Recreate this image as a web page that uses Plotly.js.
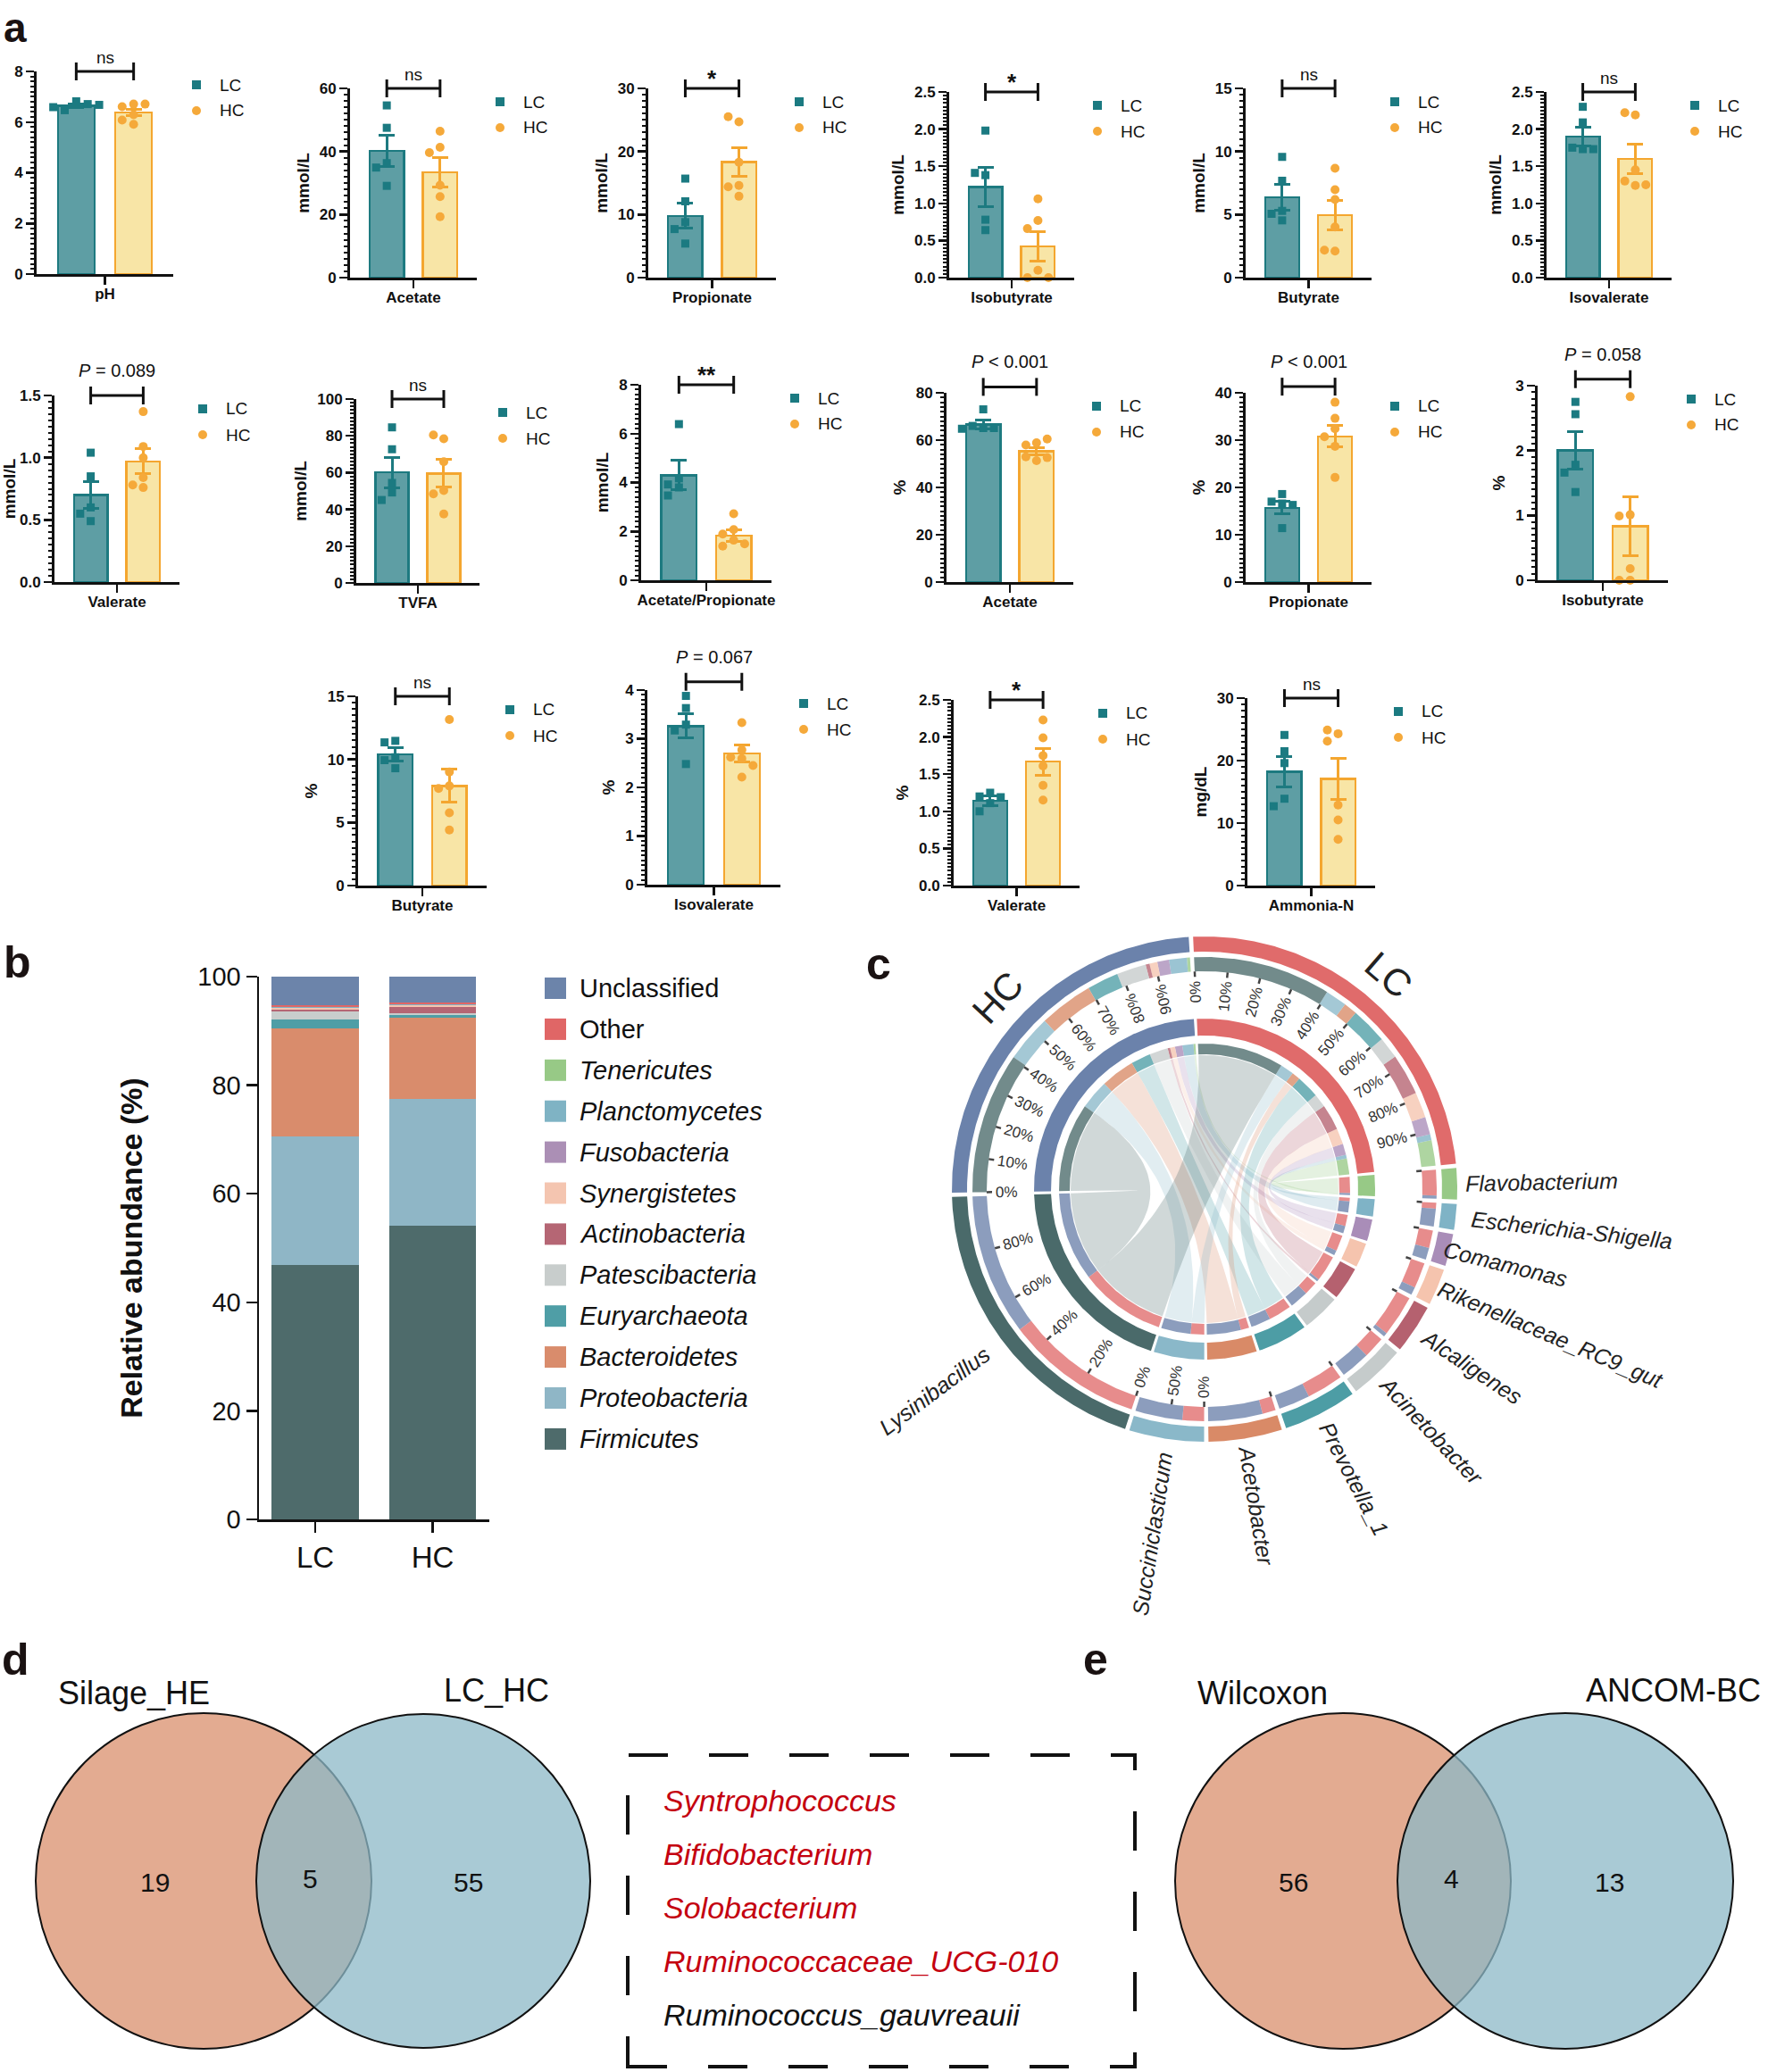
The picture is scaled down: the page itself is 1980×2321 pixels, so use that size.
<!DOCTYPE html>
<html><head><meta charset="utf-8">
<script src="https://cdn.plot.ly/plotly-3.0.1.min.js"></script>
<style>html,body{margin:0;padding:0;background:#fff}#chart{width:1980px;height:2321px}</style>
</head><body><div id="chart"></div>
<script>
const W = 1980, H = 2321;
const NARROW = '"Liberation Sans Narrow", "Arial Narrow", "Liberation Sans", Arial, sans-serif';
const SANS = '"Liberation Sans", Arial, sans-serif';

// ================= Panel a data =================
const groupNames = ['LC', 'HC'];
const panelNames = ['pH','Acetate','Propionate','Isobutyrate','Butyrate','Isovalerate',
  'Valerate','TVFA','Acetate/Propionate','Acetate','Propionate','Isobutyrate',
  'Butyrate','Isovalerate','Valerate','Ammonia-N'];
const yUnits = ['','mmol/L','mmol/L','mmol/L','mmol/L','mmol/L',
  'mmol/L','mmol/L','mmol/L','%','%','%','%','%','%','mg/dL'];
const yMax   = [8,60,30,2.5,15,2.5, 1.5,100,8,80,40,3, 15,4,2.5,30];
const yDtick = [2,20,10,0.5,5,0.5, 0.5,20,2,20,10,1, 5,1,0.5,10];
const lcMean = [6.65,40.2,9.8,1.22,6.36,1.90, 0.70,60.1,4.30,66.7,15.7,2.00, 10.4,3.26,1.14,18.2];
const lcSem  = [0.06,5.0,2.0,0.26,1.0,0.13, 0.11,8.2,0.60,1.8,1.3,0.29, 0.5,0.25,0.07,2.4];
const hcMean = [6.38,33.4,18.3,0.42,4.95,1.60, 0.97,59.5,1.82,55.3,30.8,0.83, 7.9,2.70,1.67,17.1];
const hcSem  = [0.13,4.6,2.3,0.20,1.15,0.20, 0.10,7.5,0.24,1.5,2.3,0.45, 1.3,0.17,0.18,3.3];
const lcPoints = [
  [6.82,6.47,6.71,6.59,6.68],[54.6,47.5,36.3,34.9,29.1],[15.7,12.1,8.8,7.7,5.4],
  [1.98,1.38,1.41,0.78,0.64],[9.57,7.68,5.29,5.06,4.54],[2.30,2.09,1.73,1.75,1.73],
  [1.04,0.85,0.60,0.55,0.49],[84.6,72.7,54.4,49.2,45.1],[6.39,4.17,3.92,3.80,3.47],
  [73.0,65.1,66.0,65.1,64.8],[18.6,17.0,16.6,16.3,11.4],[2.75,2.56,1.78,1.66,1.36],
  [11.47,11.35,10.17,9.94,9.3],[3.88,3.63,3.29,3.17,2.48],[1.25,1.20,1.19,1.11,1.0],
  [24.1,21.5,19.6,13.9,12.7]];
const hcPoints = [
  [6.71,6.61,6.71,5.91,6.08,6.29],[46.4,41.3,39.6,29.3,25.7,19.3],[24.7,25.5,18.3,14.6,14.4,12.9],
  [1.06,0.77,0.66,0.10,0.0,0.0],[8.67,6.97,6.19,4.02,2.1,2.17],[2.19,2.22,1.45,1.24,1.30,1.25],
  [1.37,1.09,1.0,0.84,0.76,0.78],[78.4,80.5,65.9,50.3,48.4,37.5],[2.72,2.07,1.89,1.64,1.40,1.49],
  [58.9,57.9,60.5,51.3,52.9,52.6],[38.0,34.6,32.4,30.7,28.7,22.1],[2.83,1.01,0.99,0.18,0,0],
  [13.16,9.0,7.9,7.7,5.77,4.4],[3.33,2.77,2.62,2.59,2.45,2.21],[2.23,1.99,1.75,1.61,1.35,1.15],
  [24.3,24.9,23.1,12.9,10.5,7.4]];
const sigLabels = ['ns','ns','*','*','ns','ns',
  '<i>P</i> = 0.089','ns','**','<i>P</i> &lt; 0.001','<i>P</i> &lt; 0.001','<i>P</i> = 0.058',
  'ns','<i>P</i> = 0.067','*','ns'];
const sigLevel = [8,60,30,2.5,15,2.5, 1.5,100,8,82.5,41.3,3.1, 15,4.17,2.5,30];

// layout geometry of panel a (pixels): y-axis x, x-axis right end, top tick y, baseline y
const geomA = [
  [41,194,80,307],[392,534,99,311],[726,869,99,311],[1063,1203,103,311],[1395,1536,99,311],[1732,1872,103,311],
  [61,201,443,652],[399,537,447,653],[718,864,431,650],[1060,1202,440,652],[1395,1536,440,652],[1722,1868,432,650],
  [401,545,780,992],[725,874,773,991],[1068,1209,784,992],[1397,1540,782,992]];

// ================= Panel b data =================
const groupsB = ['LC','HC'];
const phyla = ['Firmicutes','Proteobacteria','Bacteroidetes','Euryarchaeota','Patescibacteria',
  'Actinobacteria','Synergistetes','Fusobacteria','Planctomycetes','Tenericutes','Other','Unclassified'];
const phylaLC = [46.8,23.8,19.9,1.6,1.5,0.3,0.3,0.1,0.1,0.05,0.35,5.2];
const phylaHC = [54.1,23.3,15.1,0.4,0.3,1.2,0.3,0.1,0.1,0.05,0.25,4.8];
const phylaColors = ['#4e6b6b','#8fb6c6','#d98c6c','#4f9ea6','#c8cdcc','#b56674',
  '#f4c5b0','#ab8fb5','#7fb3c4','#97c986','#e06666','#6c84aa'];
const phylaItalic = [true,true,true,true,true,true,true,true,true,true,false,false];

// ================= Panel c data =================
const chordGenera = ['Flavobacterium','Escherichia-Shigella','Comamonas','Rikenellaceae_RC9_gut',
  'Alcaligenes','Acinetobacter','Prevotella_1','Acetobacter','Succiniclasticum','Lysinibacillus'];
const chordLC = [6.5,1.5,4.5,6.5,10.5,5.5,9.3,3.4,5.5,35];
const chordHC = [0.8,4.5,3.0,2.0,1.0,7.5,8.0,13.8,12.0,36];
const genusColors = ['#97c986','#7fb3c6','#a98db8','#f5c4ae','#b5616f','#c5cbcb','#4d9da5','#d98a67','#8ab8c9','#4a6a6a'];
const chordGroupColors = {LC:'#e06b6b', HC:'#6b82ab'};

// ================= Panels d, e data =================
const vennDSets = ['Silage_HE','LC_HC'];
const vennDCounts = [19,5,55];
const vennESets = ['Wilcoxon','ANCOM-BC'];
const vennECounts = [56,4,13];
const sharedGenera = ['Syntrophococcus','Bifidobacterium','Solobacterium','Ruminococcaceae_UCG-010','Ruminococcus_gauvreauii'];
const sharedHighlight = [true,true,true,true,false];

// ================= Build =================
const traces = [], shapes = [], annotations = [];
const layout = {width:W, height:H, margin:{l:0,r:0,t:0,b:0}, paper_bgcolor:'#fff', plot_bgcolor:'rgba(0,0,0,0)',
  showlegend:false, barmode:'stack', font:{family:SANS, color:'#111'}};
const LCbar = '#5e9ea4', LCline = '#1d7a80', LCpt = '#1b7a81';
const HCbar = '#f8e5a6', HCline = '#f4a62f', HCpt = '#f5a93a';

function swarm(vals, ymax, center){
  const placed = [], xs = [];
  const offs = [0,-0.2,0.2,-0.4,0.4];
  vals.forEach(v=>{
    for(const o of offs){
      if(!placed.some(p=>p.o===o && Math.abs(p.v-v) < 0.045*ymax)){placed.push({o,v}); xs.push(center+o); return;}
    }
    xs.push(center);
  });
  return xs;
}

panelNames.forEach((name,i)=>{
  const n = i+1, xa = 'x'+n, ya = 'y'+n;
  const [ax, rx, ty, by] = geomA[i];
  const fmt = (yDtick[i] < 1) ? '.1f' : '';
  layout['xaxis'+n] = {domain:[ax/W, rx/W], range:[-0.69,1.69], anchor:ya, showline:true, linewidth:3, linecolor:'#111',
    ticks:'outside', ticklen:9, tickwidth:2.5, tickcolor:'#111', tickvals:[0.5], ticktext:[name], ticklabelstandoff:-4,
    tickfont:{family:NARROW, size:17, weight:'bold', color:'#111'}, showgrid:false, zeroline:false, fixedrange:true};
  layout['yaxis'+n] = {domain:[1-by/H, 1-ty/H], range:[0,yMax[i]], anchor:xa, showline:true, linewidth:3, linecolor:'#111',
    ticks:'outside', ticklen:9, tickwidth:2.5, tickcolor:'#111', tick0:0, dtick:yDtick[i], tickformat:fmt,
    minor:{dtick:yDtick[i]/10, tick0:0, ticks:'outside', ticklen:4.5, tickwidth:2, tickcolor:'#111', showgrid:false},
    tickfont:{family:NARROW, size:17, weight:'bold', color:'#111'},
    title:{text:yUnits[i], font:{family:NARROW, size:19, weight:'bold', color:'#111'}, standoff:7},
    showgrid:false, zeroline:false, fixedrange:true};
  traces.push({type:'bar', x:[0], y:[lcMean[i]], width:0.64, xaxis:xa, yaxis:ya, name:groupNames[0],
    marker:{color:LCbar, line:{color:LCline, width:2.5}},
    error_y:{type:'data', array:[lcSem[i]], visible:true, color:LCline, thickness:3, width:9}, hoverinfo:'skip'});
  traces.push({type:'bar', x:[1], y:[hcMean[i]], width:0.64, xaxis:xa, yaxis:ya, name:groupNames[1],
    marker:{color:HCbar, line:{color:HCline, width:2.5}},
    error_y:{type:'data', array:[hcSem[i]], visible:true, color:HCline, thickness:3, width:9}, hoverinfo:'skip'});
  traces.push({type:'scatter', mode:'markers', x:swarm(lcPoints[i], yMax[i], 0), y:lcPoints[i], xaxis:xa, yaxis:ya,
    marker:{symbol:'square', size:9, color:LCpt}, cliponaxis:false, hoverinfo:'skip'});
  traces.push({type:'scatter', mode:'markers', x:swarm(hcPoints[i], yMax[i], 1), y:hcPoints[i], xaxis:xa, yaxis:ya,
    marker:{symbol:'circle', size:10, color:HCpt}, cliponaxis:false, hoverinfo:'skip'});
  const fr = sigLevel[i]/yMax[i];
  shapes.push({type:'line', xref:xa, yref:ya+' domain', x0:0, x1:1, y0:fr, y1:fr, line:{color:'#111', width:3}});
  [0,1].forEach(xx=>shapes.push({type:'line', xref:xa, yref:ya+' domain', ysizemode:'pixel', yanchor:fr,
    x0:xx, x1:xx, y0:-10, y1:10, line:{color:'#111', width:3}}));
  const lab = sigLabels[i];
  let fs = 19, ysh = 3, wt = 'normal';
  if(lab.startsWith('*')){fs = 26; ysh = -6; wt = 'bold';}
  else if(lab.startsWith('<i>P')){ysh = 15; fs = 20;}
  annotations.push({text:lab, xref:xa, yref:ya+' domain', x:0.5, y:fr, xanchor:'center', yanchor:'bottom', yshift:ysh,
    showarrow:false, font:{family:NARROW, size:fs, weight:wt, color:'#111'}});
  const lx = rx+26, ly = ty+15;
  shapes.push({type:'rect', xref:'paper', yref:'paper', x0:(lx-5)/W, x1:(lx+5)/W, y0:1-(ly+5)/H, y1:1-(ly-5)/H,
    fillcolor:LCpt, line:{width:0}});
  shapes.push({type:'circle', xref:'paper', yref:'paper', x0:(lx-5)/W, x1:(lx+5)/W, y0:1-(ly+34)/H, y1:1-(ly+24)/H,
    fillcolor:HCpt, line:{width:0}});
  annotations.push({text:groupNames[0], xref:'paper', yref:'paper', x:(lx+24)/W, y:1-ly/H, xanchor:'left', yanchor:'middle',
    showarrow:false, font:{family:NARROW, size:19, color:'#111'}});
  annotations.push({text:groupNames[1], xref:'paper', yref:'paper', x:(lx+24)/W, y:1-(ly+29)/H, xanchor:'left', yanchor:'middle',
    showarrow:false, font:{family:NARROW, size:19, color:'#111'}});
});

// ---------------- Panel b ----------------
layout.xaxis17 = {domain:[290/W, 548/W], range:[-0.479,1.483], anchor:'y17', showline:true, linewidth:2.5, linecolor:'#111',
  ticks:'outside', ticklen:12, tickwidth:2.5, tickcolor:'#111', tickvals:[0,1], ticktext:groupsB,
  tickfont:{family:SANS, size:33, color:'#111'}, showgrid:false, zeroline:false, fixedrange:true};
layout.yaxis17 = {domain:[1-1702/H, 1-1094/H], range:[0,100], anchor:'x17', showline:true, linewidth:2.5, linecolor:'#111',
  ticks:'outside', ticklen:12, tickwidth:2.5, tickcolor:'#111', dtick:20, tickfont:{family:SANS, size:29, color:'#111'},
  title:{text:'Relative abundance (%)', font:{family:SANS, size:34, weight:'bold', color:'#111'}, standoff:52},
  showgrid:false, zeroline:false, fixedrange:true};
phyla.forEach((p,k)=>{
  traces.push({type:'bar', x:[0,1], y:[phylaLC[k], phylaHC[k]], width:0.745, xaxis:'x17', yaxis:'y17', name:p,
    marker:{color:phylaColors[k], line:{width:0}}, hoverinfo:'skip'});
});
for(let j=0;j<phyla.length;j++){
  const k = phyla.length-1-j;
  const yc = 1107 + j*45.9;
  shapes.push({type:'rect', xref:'paper', yref:'paper', x0:610/W, x1:634/W, y0:1-(yc+12)/H, y1:1-(yc-12)/H,
    fillcolor:phylaColors[k], line:{width:0}});
  annotations.push({text: phylaItalic[k] ? '<i>'+phyla[k]+'</i>' : phyla[k], xref:'paper', yref:'paper',
    x:647/W, y:1-yc/H, xanchor:'left', yanchor:'middle', showarrow:false, font:{family:SANS, size:29, color:'#111'}});
}

// ---------------- Panel c (chord) ----------------
layout.xaxis18 = {domain:[980/W, 1960/W], range:[-369,611], anchor:'y18', visible:false, fixedrange:true};
layout.yaxis18 = {domain:[1-1790/H, 1-1020/H], range:[-458,312], anchor:'x18', visible:false, fixedrange:true};
const D2R = Math.PI/180;
const pt = (r,t)=>[r*Math.cos(t*D2R), r*Math.sin(t*D2R)];
function arcPts(r,t1,t2){const n=Math.max(2,Math.ceil(Math.abs(t1-t2)/0.4)); const o=[]; for(let k=0;k<=n;k++) o.push(pt(r,t1+(t2-t1)*k/n)); return o;}
function annulus(r0,r1,t1,t2){return arcPts(r1,t1,t2).concat(arcPts(r0,t2,t1));}
function bez(p0,p2){const o=[]; for(let k=1;k<40;k++){const t=k/40; o.push([(1-t)*(1-t)*p0[0]+t*t*p2[0], (1-t)*(1-t)*p0[1]+t*t*p2[1]]);} return o;}
function rgba(hex,a){const v=parseInt(hex.slice(1),16); return 'rgba('+((v>>16)&255)+','+((v>>8)&255)+','+(v&255)+','+a+')';}
function poly(pts,color){pts.push(pts[0]); traces.push({type:'scatter', mode:'lines', x:pts.map(p=>p[0]), y:pts.map(p=>p[1]),
  fill:'toself', fillcolor:color, line:{width:0, color:color}, xaxis:'x18', yaxis:'y18', hoverinfo:'skip'});}

const sumLC = chordLC.reduce((a,b)=>a+b,0), sumHC = chordHC.reduce((a,b)=>a+b,0);
const secNames = ['LC'].concat(chordGenera).concat(['HC']);
const secSizes = [sumLC].concat(chordGenera.map((g,k)=>chordLC[k]+chordHC[k])).concat([sumHC]);
const secColors = [chordGroupColors.LC].concat(genusColors).concat([chordGroupColors.HC]);
const GAP = 1.0, START = 92.6;
const total = secSizes.reduce((a,b)=>a+b,0);
const unit = (360 - GAP*secSizes.length)/total;
let cur = START;
const sec = secSizes.map((s,k)=>{const st=cur, en=cur-s*unit; cur=en-GAP; return {name:secNames[k], s:st, e:en, color:secColors[k]};});
const secLC = sec[0], secHC = sec[sec.length-1];
const gLink = chordGenera.map((g,k)=>{const sc=sec[k+1]; const m=sc.s-chordLC[k]*unit; return {LC:[sc.s,m], HC:[m,sc.e]};});
const lcLink = [], hcLink = [];
let cL = secLC.s, cH = secHC.s;
for(let k=chordGenera.length-1;k>=0;k--){
  lcLink[k] = [cL, cL-chordLC[k]*unit]; cL -= chordLC[k]*unit;
  hcLink[k] = [cH, cH-chordHC[k]*unit]; cH -= chordHC[k]*unit;
}
const RC = 150;
chordGenera.forEach((g,k)=>{
  [['LC',lcLink],['HC',hcLink]].forEach(([grp,links])=>{
    const a = gLink[k][grp], b = links[k];
    if(Math.abs(a[0]-a[1])<1e-6) return;
    let pts = arcPts(RC,a[0],a[1]);
    pts = pts.concat(bez(pt(RC,a[1]), pt(RC,b[0])));
    pts = pts.concat(arcPts(RC,b[0],b[1]));
    pts = pts.concat(bez(pt(RC,b[1]), pt(RC,a[0])));
    poly(pts, rgba(genusColors[k],0.26));
  });
});
const CA = 0.78;
sec.forEach(sc=>{ poly(annulus(266,283,sc.s,sc.e), sc.color); poly(annulus(172,191,sc.s,sc.e), sc.color); });
chordGenera.forEach((g,k)=>{
  [['LC',chordGroupColors.LC],['HC',chordGroupColors.HC]].forEach(([grp,col])=>{
    const a = gLink[k][grp];
    poly(annulus(244,260,a[0],a[1]), rgba(col,CA));
    poly(annulus(151,163,a[0],a[1]), rgba(col,CA));
  });
  [lcLink,hcLink].forEach(links=>{
    const b = links[k];
    poly(annulus(244,260,b[0],b[1]), rgba(genusColors[k],CA));
    poly(annulus(151,163,b[0],b[1]), rgba(genusColors[k],CA));
  });
});
function facing(t){let a=((t%360)+360)%360; let r=(a>114 && a<278) ? 180-a : -a; while(r>180) r-=360; while(r<-180) r+=360; return r;}
const tickX = [], tickY = [];
function pctMarks(sc, fracs, withLabel){
  fracs.forEach(f=>{
    const t = sc.s - f*(sc.s-sc.e);
    const p0 = pt(238,t), p1 = pt(244,t);
    tickX.push(p0[0],p1[0],null); tickY.push(p0[1],p1[1],null);
    if(withLabel){
      const txt = Math.round(f*100)+'%';
      const L = ((txt.length-1)*0.556+0.889)*17;
      const c = pt(234-L/2, t);
      annotations.push({text:txt, xref:'x18', yref:'y18', x:c[0], y:c[1], xanchor:'center', yanchor:'middle',
        textangle:facing(t), showarrow:false, font:{family:SANS, size:17, color:'#333'}});
    }
  });
}
pctMarks(secLC, [0,0.1,0.2,0.3,0.4,0.5,0.6,0.7,0.8,0.9], true);
pctMarks(secHC, [0,0.1,0.2,0.3,0.4,0.5,0.6,0.7,0.8,0.9], true);
pctMarks(sec[10], [0,0.2,0.4,0.6,0.8], true);
pctMarks(sec[9], [0,0.5], true);
for(let k=1;k<=8;k++) pctMarks(sec[k], [0], false);
traces.push({type:'scatter', mode:'lines', x:tickX, y:tickY, line:{color:'#444', width:2.5}, xaxis:'x18', yaxis:'y18', hoverinfo:'skip'});
chordGenera.forEach((g,k)=>{
  const sc = sec[k+1]; const t = (sc.s+sc.e)/2;
  const L = g.length*0.49*25;
  const c = pt(292+L/2, t);
  annotations.push({text:'<i>'+g+'</i>', xref:'x18', yref:'y18', x:c[0], y:c[1], xanchor:'center', yanchor:'middle',
    textangle:facing(t), showarrow:false, font:{family:SANS, size:25, color:'#222'}});
});
[secLC, secHC].forEach(sc=>{
  const t = (sc.s+sc.e)/2; const c = pt(316,t);
  annotations.push({text:sc.name, xref:'x18', yref:'y18', x:c[0], y:c[1], xanchor:'center', yanchor:'middle',
    textangle:90-t, showarrow:false, font:{family:SANS, size:42, color:'#222'}});
});

// ---------------- Panels d, e (Venn) ----------------
function circleShape(cx,cy,r,fill){shapes.push({type:'circle', xref:'paper', yref:'paper', layer:'below',
  x0:(cx-r)/W, x1:(cx+r)/W, y0:1-(cy+r)/H, y1:1-(cy-r)/H, fillcolor:fill, line:{color:'#111', width:2}});}
function paperText(txt,x,y,size,opts){annotations.push(Object.assign({text:txt, xref:'paper', yref:'paper', x:x/W, y:1-y/H,
  xanchor:'center', yanchor:'middle', showarrow:false, font:{family:SANS, size:size, color:'#111'}}, opts||{}));}
circleShape(228,2107,188,'#e3ab91'); circleShape(474,2107,187,'rgba(140,184,199,0.75)');
circleShape(1504,2107,188,'#e3ab91'); circleShape(1753,2107,188,'rgba(140,184,199,0.75)');
paperText(vennDSets[0],150,1897,36); paperText(vennDSets[1],556,1893,36);
paperText(vennESets[0],1414,1897,36); paperText(vennESets[1],1874,1893,36);
paperText(String(vennDCounts[0]),173,2108,30); paperText(String(vennDCounts[1]),347,2104,30); paperText(String(vennDCounts[2]),524,2108,30);
paperText(String(vennECounts[0]),1448,2108,30); paperText(String(vennECounts[1]),1625,2104,30); paperText(String(vennECounts[2]),1802,2108,30);
shapes.push({type:'rect', xref:'paper', yref:'paper', x0:703/W, x1:1271/W, y0:1-2315/H, y1:1-1966/H,
  line:{color:'#111', width:4, dash:'44px,46px'}, fillcolor:'rgba(0,0,0,0)'});
sharedGenera.forEach((g,k)=>{
  paperText('<i>'+g+'</i>', 741, 2017+k*60, 34, {xanchor:'left', font:{family:SANS, size:34, color: sharedHighlight[k] ? '#c4000f' : '#111'}});
});

// ---------------- Panel letters ----------------
[['a',2,31,46],['b',2,1078,50],['c',968,1080,50],['d',0,1859,50],['e',1211,1859,50]].forEach(([l,x,y,s])=>{
  paperText(l,x,y,s,{xanchor:'left', font:{family:SANS, size:s, weight:'bold', color:'#1a1212'}});
});

layout.shapes = shapes; layout.annotations = annotations;
Plotly.newPlot('chart', traces, layout, {displayModeBar:false, staticPlot:true});
</script></body></html>
